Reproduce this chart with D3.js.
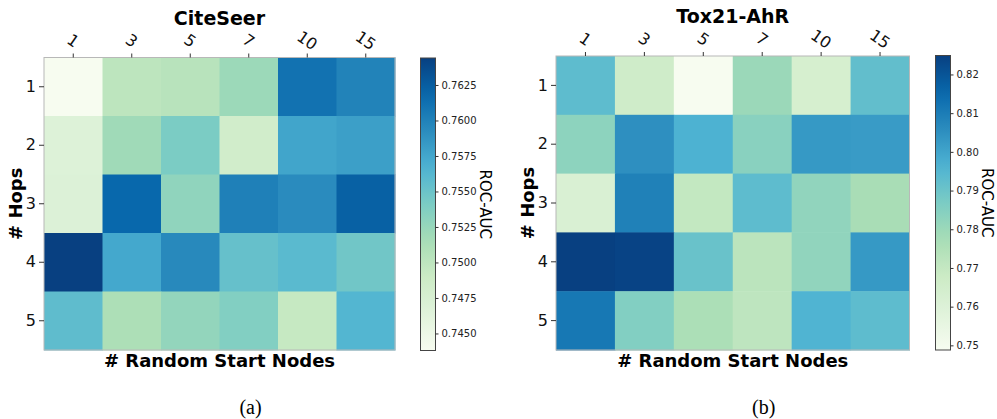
<!DOCTYPE html>
<html><head><meta charset="utf-8">
<script src="https://cdn.jsdelivr.net/npm/d3@7"></script>
<style>body{margin:0;background:#fff}svg{display:block}</style>
</head><body>
<svg id="c" width="997" height="419"></svg>
<script>
const startNodes = ["1","3","5","7","10","15"];
const hops = ["1","2","3","4","5"];
const citeseer = [
  [0.7438,0.7500,0.7504,0.7522,0.7611,0.7599],
  [0.7467,0.7520,0.7541,0.7483,0.7576,0.7580],
  [0.7469,0.7618,0.7529,0.7601,0.7593,0.7623],
  [0.7644,0.7574,0.7595,0.7553,0.7560,0.7547],
  [0.7557,0.7512,0.7527,0.7537,0.7494,0.7564]
];
const tox21 = [
  [0.7929,0.7663,0.7488,0.7800,0.7633,0.7922],
  [0.7830,0.8051,0.7967,0.7838,0.8028,0.8021],
  [0.7617,0.8089,0.7701,0.7929,0.7823,0.7770],
  [0.8249,0.8241,0.7907,0.7724,0.7823,0.8028],
  [0.8112,0.7853,0.7762,0.7716,0.7960,0.7929]
];
const citeTicks = [0.7450,0.7475,0.7500,0.7525,0.7550,0.7575,0.7600,0.7625];
const toxTicks = [0.75,0.76,0.77,0.78,0.79,0.80,0.81,0.82];

const svg = d3.select("#c");
const gnbu = d3.piecewise(d3.interpolateRgb, d3.schemeGnBu[9]);

function panel(o){
  const {data,title,left,right,top,bottom,cbX,cbW,cbTop,cbBottom,ticks,fmt,caption} = o;
  const flat = data.flat();
  const ext = d3.extent(flat);
  const color = d3.scaleSequential(gnbu).domain(ext);
  const x = d3.scaleBand().domain(startNodes).range([left,right]);
  const y = d3.scaleBand().domain(hops).range([top,bottom]);
  const g = svg.append("g");
  const cells = [];
  data.forEach((row,i)=>row.forEach((v,j)=>cells.push({r:hops[i],c:startNodes[j],v})));
  g.selectAll("rect.cell").data(cells).join("rect")
    .attr("x",d=>x(d.c)).attr("y",d=>y(d.r))
    .attr("width",x.bandwidth()+0.5).attr("height",y.bandwidth()+0.5)
    .attr("fill",d=>color(d.v));
  g.append("rect").attr("x",left).attr("y",top).attr("width",right-left).attr("height",bottom-top)
    .attr("fill","none").attr("stroke","#b8b8b8").attr("stroke-width",1);
  // top axis
  const xa = g.append("g").attr("transform",`translate(0,${top})`)
    .call(d3.axisTop(x).tickSize(4).tickSizeOuter(0));
  xa.select(".domain").remove();
  xa.selectAll("line").attr("stroke","#333");
  xa.selectAll("text").attr("font-family","DejaVu Sans").attr("font-size",16).attr("fill","#111")
    .attr("text-anchor","middle").attr("dy","0.35em")
    .attr("transform","translate(0,-17) rotate(35)").attr("y",0);
  // left axis
  const ya = g.append("g").attr("transform",`translate(${left},0)`)
    .call(d3.axisLeft(y).tickSize(5).tickSizeOuter(0).tickPadding(3));
  ya.select(".domain").remove();
  ya.selectAll("line").attr("stroke","#333");
  ya.selectAll("text").attr("font-family","DejaVu Sans").attr("font-size",16).attr("fill","#111");
  const cx = (left+right)/2;
  g.append("text").attr("x",cx).attr("y",top-33).attr("text-anchor","middle")
    .attr("font-family","DejaVu Sans").attr("font-weight","bold").attr("font-size",19).text(title);
  g.append("text").attr("x",cx).attr("y",bottom+17).attr("text-anchor","middle")
    .attr("font-family","DejaVu Sans").attr("font-weight","bold").attr("font-size",18).text("# Random Start Nodes");
  g.append("text").attr("transform",`translate(${left-22},${(top+bottom)/2}) rotate(-90)`)
    .attr("text-anchor","middle").attr("font-family","DejaVu Sans").attr("font-weight","bold")
    .attr("font-size",18).text("# Hops");
  g.append("text").attr("x",cx+31).attr("y",414).attr("text-anchor","middle")
    .attr("font-family","Liberation Serif").attr("font-size",20).text(caption);
  // colorbar
  const cs = d3.scaleLinear().domain(ext).range([cbBottom,cbTop]);
  const defs = svg.append("defs");
  const gid = "grad"+caption.replace(/\W/g,"");
  const grad = defs.append("linearGradient").attr("id",gid)
    .attr("x1",0).attr("y1",1).attr("x2",0).attr("y2",0);
  d3.range(0,1.0001,0.05).forEach(t=>grad.append("stop").attr("offset",t).attr("stop-color",gnbu(t)));
  g.append("rect").attr("x",cbX).attr("y",cbTop).attr("width",cbW).attr("height",cbBottom-cbTop)
    .attr("fill",`url(#${gid})`).attr("stroke","#444").attr("stroke-width",1);
  const ca = g.append("g").attr("transform",`translate(${cbX+cbW},0)`)
    .call(d3.axisRight(cs).tickValues(ticks).tickFormat(d3.format(fmt)).tickSize(3).tickPadding(3));
  ca.select(".domain").remove();
  ca.selectAll("line").attr("stroke","#333");
  ca.selectAll("text").attr("font-family","DejaVu Sans").attr("font-size",10).attr("fill","#222");
  g.append("text").attr("transform",`translate(${o.labX},${(cbTop+cbBottom)/2}) rotate(90)`)
    .attr("text-anchor","middle").attr("dy","0.35em").attr("font-family","DejaVu Sans")
    .attr("font-size",15).text("ROC-AUC");
}

panel({data:citeseer,title:"CiteSeer",left:44,right:395,top:57.5,bottom:350,
  cbX:420.5,cbW:15,cbTop:58,cbBottom:350.5,ticks:citeTicks,fmt:".4f",caption:"(a)",labX:485});
panel({data:tox21,title:"Tox21-AhR",left:556,right:909.5,top:56,bottom:350,
  cbX:935.5,cbW:15,cbTop:55.5,cbBottom:350,ticks:toxTicks,fmt:".2f",caption:"(b)",labX:987});
</script>
</body></html>
